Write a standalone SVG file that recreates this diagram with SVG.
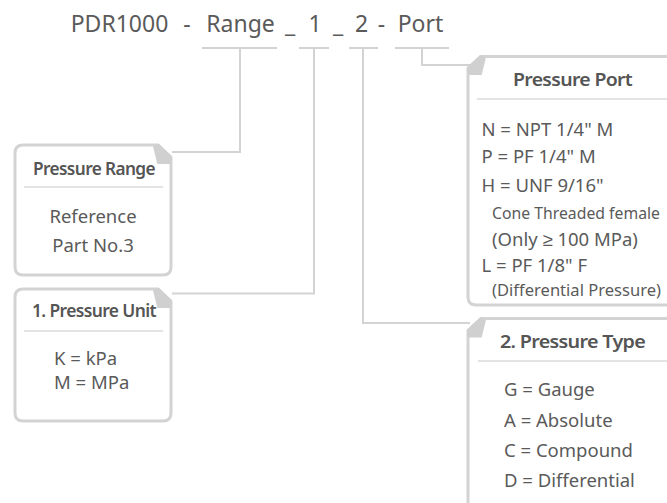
<svg xmlns="http://www.w3.org/2000/svg" width="667" height="503" viewBox="0 0 667 503">
<style>
.hdr{font-family:"Noto Sans","Liberation Sans",sans-serif;font-size:23px;fill:#5a5a5a;text-anchor:middle}
.box{fill:#fff;stroke:#d3d3d3;stroke-width:3}
.flap{fill:#d0d0d0}
.sep{stroke:#dadada;stroke-width:1.5}
.ttl{font-family:"Noto Sans","Liberation Sans",sans-serif;font-size:17px;font-weight:600;fill:#555;text-anchor:middle;letter-spacing:-0.6px}
.txt{font-family:"Noto Sans","Liberation Sans",sans-serif;font-size:18.5px;fill:#5a5a5a}
.sm{font-size:17px}
.xs{font-size:16px}
.mid{text-anchor:middle}
.con{fill:none;stroke:#d3d3d3;stroke-width:2}
</style>
<g id="header">
<text class="hdr" x="119.5" y="32">PDR1000</text>
<text class="hdr" x="187" y="32">-</text>
<text class="hdr" x="240.5" y="32">Range</text>
<text class="hdr" x="290" y="32">_</text>
<text class="hdr" x="315" y="32">1</text>
<text class="hdr" x="338" y="32">_</text>
<text class="hdr" x="361.5" y="32">2</text>
<text class="hdr" x="381.5" y="32">-</text>
<text class="hdr" x="420.5" y="32">Port</text>
</g>
<g id="connectors">
<path class="con" d="M202,48H277M240,48V152H172"/>
<path class="con" d="M299,48H329M314,48V293.5H172"/>
<path class="con" d="M349,48H378M363,48V323H470"/>
<path class="con" d="M395,48H449M422,48V65H470"/>
</g>
<g id="pressure-range">
<path class="box" d="M23,145H158L171,158V267Q171,275 163,275H23Q15,275 15,267V153Q15,145 23,145Z"/>
<polygon class="flap" points="172.3,156.3 159,144 153,146.3 157.3,164 170.7,164"/>
<text class="ttl" x="94" y="175" textLength="122" lengthAdjust="spacingAndGlyphs">Pressure Range</text>
<line class="sep" x1="24" y1="187" x2="163" y2="187"/>
<text class="txt mid" x="93" y="223">Reference</text>
<text class="txt mid" x="93" y="252">Part No.3</text>
</g>
<g id="pressure-unit">
<path class="box" d="M23,289H158L171,302V413Q171,421 163,421H23Q15,421 15,413V297Q15,289 23,289Z"/>
<polygon class="flap" points="172.3,300.3 159,288 153,290.3 157.3,308 170.7,308"/>
<text class="ttl" x="94" y="317" textLength="124" lengthAdjust="spacingAndGlyphs">1. Pressure Unit</text>
<line class="sep" x1="24" y1="331" x2="163" y2="331"/>
<text class="txt" x="54" y="365">K = kPa</text>
<text class="txt" x="54" y="389">M = MPa</text>
</g>
<g id="pressure-port">
<path class="box" d="M672,56.5H481L468,69V297Q468,305 476,305H672"/>
<polygon class="flap" points="466.7,67.3 480,55 486,57.3 481.7,75 468.3,75"/>
<text class="ttl" x="572.5" y="86" textLength="119" lengthAdjust="spacingAndGlyphs">Pressure Port</text>
<line class="sep" x1="477" y1="99" x2="667" y2="99"/>
<text class="txt" x="481.5" y="136">N = NPT 1/4" M</text>
<text class="txt" x="481.5" y="163">P = PF 1/4" M</text>
<text class="txt" x="481.5" y="192">H = UNF 9/16"</text>
<text class="txt xs" x="492" y="219" textLength="168" lengthAdjust="spacingAndGlyphs">Cone Threaded female</text>
<text class="txt" x="492" y="246">(Only ≥ 100 MPa)</text>
<text class="txt" x="481.5" y="272">L  = PF 1/8" F</text>
<text class="txt sm" x="492" y="296" textLength="169" lengthAdjust="spacingAndGlyphs">(Differential Pressure)</text>
</g>
<g id="pressure-type">
<path class="box" d="M672,318.5H481L468,331V510"/>
<polygon class="flap" points="466.7,329.8 480,317.5 486,319.8 481.7,337.5 468.3,337.5"/>
<text class="ttl" x="572.5" y="348" textLength="145" lengthAdjust="spacingAndGlyphs">2. Pressure Type</text>
<line class="sep" x1="478" y1="361" x2="667" y2="361"/>
<text class="txt" x="504" y="396">G = Gauge</text>
<text class="txt" x="504" y="427">A = Absolute</text>
<text class="txt" x="504" y="457">C = Compound</text>
<text class="txt" x="504" y="487">D = Differential</text>
</g>
</svg>
